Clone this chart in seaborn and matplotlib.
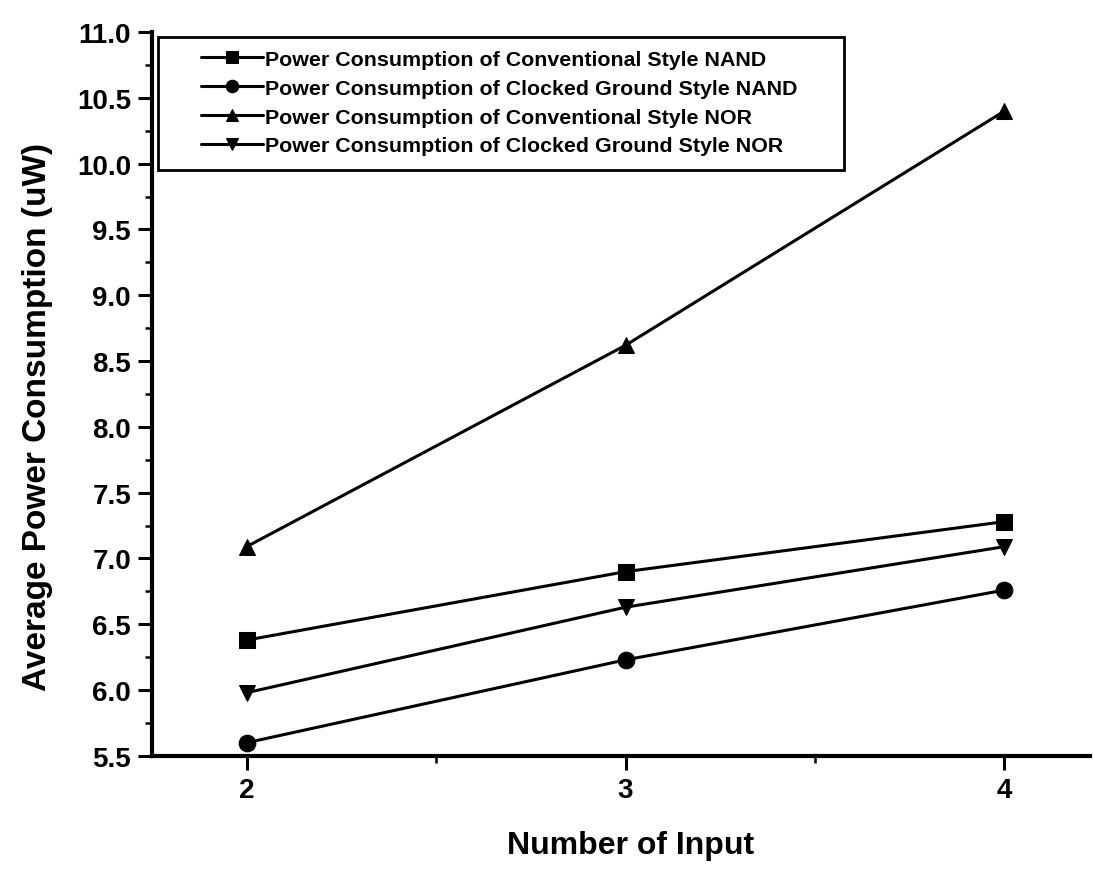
import numpy as np
import pandas as pd
import matplotlib; matplotlib.use("Agg")
import matplotlib.pyplot as plt
import seaborn as sns
from matplotlib.patches import Rectangle
from matplotlib.ticker import MultipleLocator, FormatStrFormatter

inputs = [2, 3, 4]
conv_nand = [6.38, 6.90, 7.28]
clk_nand = [5.60, 6.23, 6.76]
conv_nor = [7.09, 8.62, 10.40]
clk_nor = [5.98, 6.63, 7.09]
labels = ["Power Consumption of Conventional Style NAND",
          "Power Consumption of Clocked Ground Style NAND",
          "Power Consumption of Conventional Style NOR",
          "Power Consumption of Clocked Ground Style NOR"]
markers = ["s", "o", "^", "v"]

sns.set_style("ticks")
plt.rcParams.update({"font.family": ["Liberation Sans", "DejaVu Sans"], "font.weight": "bold",
                     "text.color": "black", "axes.labelcolor": "black",
                     "xtick.color": "black", "ytick.color": "black"})

df = pd.DataFrame({"x": inputs * 4,
                   "y": conv_nand + clk_nand + conv_nor + clk_nor,
                   "series": np.repeat(labels, len(inputs))})

fig = plt.figure(figsize=(10.93, 8.7), dpi=100)
ax = fig.add_axes([0.139, 0.130, 0.858, 0.832])
sns.lineplot(data=df, x="x", y="y", hue="series", style="series",
             palette=["black"] * 4, markers=markers, dashes=False,
             markersize=12, linewidth=2.2, markeredgecolor="black", ax=ax)

ax.set_xlim(1.75, 4.225); ax.set_ylim(5.5, 11.0)
ax.xaxis.set_major_locator(MultipleLocator(1)); ax.xaxis.set_minor_locator(MultipleLocator(0.5))
ax.yaxis.set_major_locator(MultipleLocator(0.5)); ax.yaxis.set_minor_locator(MultipleLocator(0.25))
ax.yaxis.set_major_formatter(FormatStrFormatter("%.1f"))
ax.tick_params(which="major", length=10, width=2.2, labelsize=20, direction="out", pad=5)
ax.tick_params(which="minor", length=5, width=1.8, direction="out")
for lab in ax.get_xticklabels() + ax.get_yticklabels():
    lab.set_fontweight("bold")
sns.despine(ax=ax)
for s in ["left", "bottom"]:
    ax.spines[s].set_linewidth(3)
    ax.spines[s].set_color("black")

ax.set_xlabel("Number of Input", fontsize=23, fontweight="bold")
ax.set_ylabel("Average Power Consumption (uW)", fontsize=24, fontweight="bold")
ax.xaxis.set_label_coords(0.51, -0.102)
ax.yaxis.set_label_coords(-0.106, 0.47)

# legend without frame, box drawn wider around it like the original
leg = ax.legend(loc="upper left", bbox_to_anchor=(0.034, 0.999), fontsize=15.4,
                frameon=False, handlelength=2.9, labelspacing=0.46, borderpad=0.3,
                handletextpad=0.1, markerscale=0.75)
for t in leg.get_texts():
    t.set_fontweight("bold")
fig.canvas.draw()
bb = leg.get_window_extent()
fig.patches.append(Rectangle((bb.x0 - 37, bb.y0 - 8), bb.width + 77, bb.height + 14,
                             transform=None, fill=False, edgecolor="black", linewidth=2,
                             figure=fig, zorder=5))

fig.savefig("out.png", dpi=100)
